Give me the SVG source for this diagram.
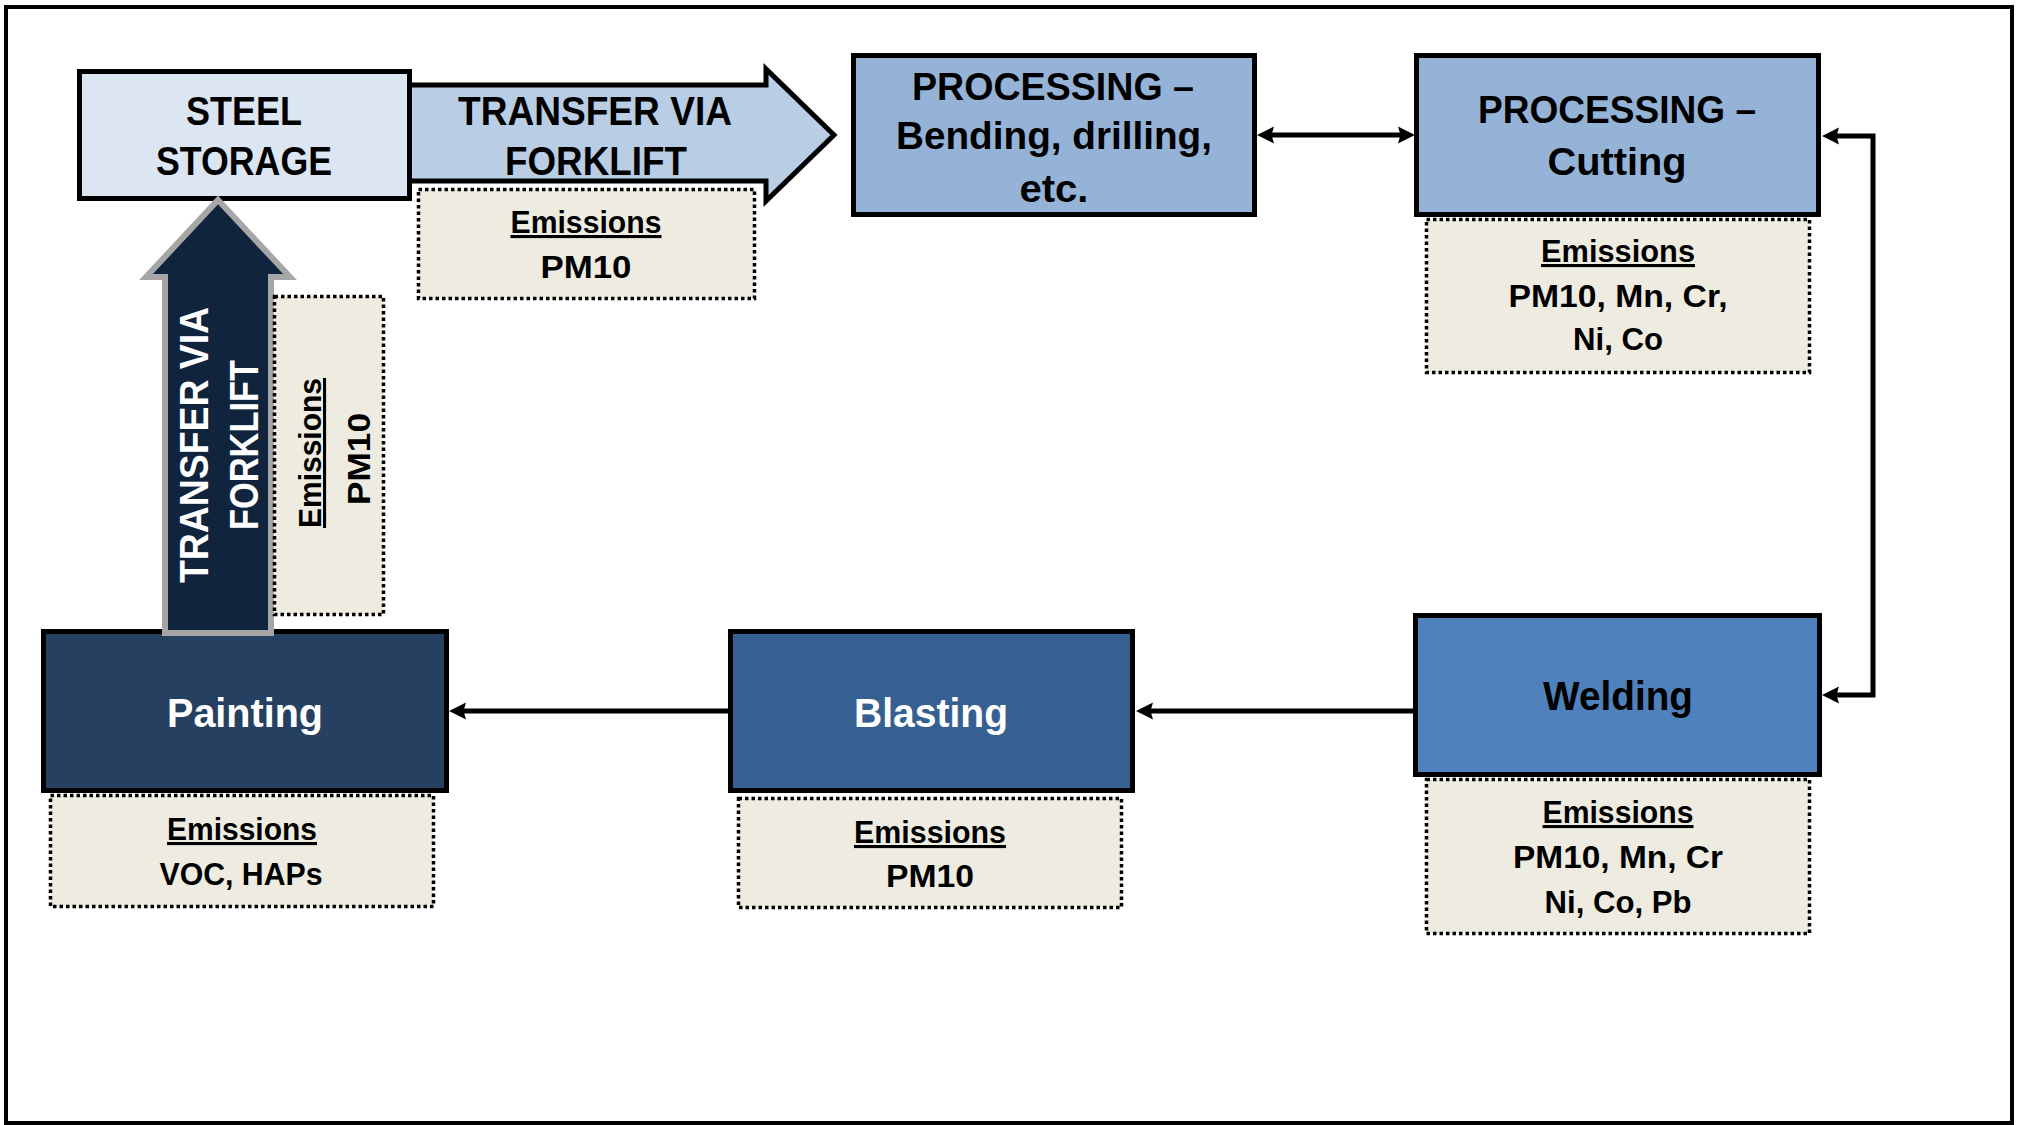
<svg xmlns="http://www.w3.org/2000/svg" width="2019" height="1125" viewBox="0 0 2019 1125">
<style>
.t{font-family:"Liberation Sans",Arial,sans-serif;font-weight:bold;text-anchor:middle}
.k{fill:#000}
.w{fill:#fff}
.n{font-size:40px}
.e{font-size:31px}
.u{text-decoration:underline}
.box{stroke:#000;stroke-width:5}
.em{fill:#eeece1;stroke:#000;stroke-width:3.5;stroke-dasharray:3.5 3}
.c{fill:none;stroke:#000;stroke-width:5}
</style>
<defs>
<marker id="ah" markerUnits="userSpaceOnUse" markerWidth="18" markerHeight="18" refX="8" refY="9" orient="auto-start-reverse" viewBox="0 0 18 18">
<path d="M0,0.5 L17,9 L0,17.5 L2.5,9 z" fill="#000"/>
</marker>
</defs>
<rect x="6" y="7" width="2006" height="1116" fill="#fff" stroke="#000" stroke-width="4"/>

<g id="connectors">
<line class="c" x1="1266" y1="135" x2="1406" y2="135" marker-start="url(#ah)" marker-end="url(#ah)"/>
<path class="c" d="M1831,136 H1873 V695 H1831" marker-start="url(#ah)" marker-end="url(#ah)"/>
<line class="c" x1="1413" y1="711" x2="1145" y2="711" marker-end="url(#ah)"/>
<line class="c" x1="728" y1="711" x2="458" y2="711" marker-end="url(#ah)"/>
</g>

<g id="transfer-forklift-1">
<polygon points="405,85 766,85 766,69 834,135 766,201 766,181 405,181" fill="#b9cde5" stroke="#000" stroke-width="5" stroke-linejoin="miter"/>
<text class="t k" x="595" y="125" font-size="41" textLength="274" lengthAdjust="spacingAndGlyphs">TRANSFER VIA</text>
<text class="t k" x="596" y="175" font-size="41" textLength="182" lengthAdjust="spacingAndGlyphs">FORKLIFT</text>
</g>

<g id="steel-storage">
<rect class="box" x="79.5" y="71.5" width="330" height="127" fill="#dce6f2"/>
<text class="t k" x="244" y="125" font-size="41" textLength="116" lengthAdjust="spacingAndGlyphs">STEEL</text>
<text class="t k" x="244" y="175" font-size="41" textLength="176" lengthAdjust="spacingAndGlyphs">STORAGE</text>
</g>

<g id="emissions-transfer-1">
<rect class="em" x="418.5" y="189.5" width="336" height="109"/>
<text class="t k e u" x="586" y="233" textLength="151" lengthAdjust="spacingAndGlyphs">Emissions</text>
<text class="t k e" x="586" y="278" textLength="91" lengthAdjust="spacingAndGlyphs">PM10</text>
</g>

<g id="processing-bending">
<rect class="box" x="853.5" y="55.5" width="401" height="159" fill="#95b3d7"/>
<text class="t k" x="1053" y="100" font-size="38" textLength="282" lengthAdjust="spacingAndGlyphs">PROCESSING –</text>
<text class="t k" x="1054" y="149" font-size="38" textLength="316" lengthAdjust="spacingAndGlyphs">Bending, drilling,</text>
<text class="t k" x="1054" y="202" font-size="38" textLength="69" lengthAdjust="spacingAndGlyphs">etc.</text>
</g>

<g id="processing-cutting">
<rect class="box" x="1416.5" y="55.5" width="402" height="159" fill="#95b3d7"/>
<text class="t k" x="1617" y="123" font-size="38" textLength="278" lengthAdjust="spacingAndGlyphs">PROCESSING –</text>
<text class="t k" x="1617" y="175" font-size="38" textLength="139" lengthAdjust="spacingAndGlyphs">Cutting</text>
</g>

<g id="emissions-cutting">
<rect class="em" x="1426.5" y="219.5" width="383" height="153"/>
<text class="t k e u" x="1618" y="262" textLength="154" lengthAdjust="spacingAndGlyphs">Emissions</text>
<text class="t k e" x="1618" y="307" textLength="219" lengthAdjust="spacingAndGlyphs">PM10, Mn, Cr,</text>
<text class="t k e" x="1618" y="350" textLength="90" lengthAdjust="spacingAndGlyphs">Ni, Co</text>
</g>

<g id="welding">
<rect class="box" x="1415.5" y="615.5" width="404" height="159" fill="#4f81bd"/>
<text class="t k n" x="1618" y="710" textLength="150" lengthAdjust="spacingAndGlyphs">Welding</text>
</g>

<g id="emissions-welding">
<rect class="em" x="1426.5" y="779.5" width="383" height="154"/>
<text class="t k e u" x="1618" y="823" textLength="151" lengthAdjust="spacingAndGlyphs">Emissions</text>
<text class="t k e" x="1618" y="868" textLength="210" lengthAdjust="spacingAndGlyphs">PM10, Mn, Cr</text>
<text class="t k e" x="1618" y="913" textLength="147" lengthAdjust="spacingAndGlyphs">Ni, Co, Pb</text>
</g>

<g id="blasting">
<rect class="box" x="730.5" y="631.5" width="402" height="159" fill="#376092"/>
<text class="t w n" x="931" y="727" textLength="154" lengthAdjust="spacingAndGlyphs">Blasting</text>
</g>

<g id="emissions-blasting">
<rect class="em" x="738.5" y="798.5" width="383" height="109"/>
<text class="t k e u" x="930" y="843" textLength="152" lengthAdjust="spacingAndGlyphs">Emissions</text>
<text class="t k e" x="930" y="887" textLength="88" lengthAdjust="spacingAndGlyphs">PM10</text>
</g>

<g id="painting">
<rect class="box" x="43.5" y="631.5" width="403" height="159" fill="#254061"/>
<text class="t w n" x="245" y="727" textLength="156" lengthAdjust="spacingAndGlyphs">Painting</text>
</g>

<g id="emissions-painting">
<rect class="em" x="50.5" y="795.5" width="383" height="111"/>
<text class="t k e u" x="242" y="840" textLength="150" lengthAdjust="spacingAndGlyphs">Emissions</text>
<text class="t k e" x="241" y="885" textLength="163" lengthAdjust="spacingAndGlyphs">VOC, HAPs</text>
</g>

<g id="transfer-forklift-2">
<polygon points="218,200 290,277 271,277 271,633 165,633 165,277 146,277" fill="#10243e" stroke="#a6a6a6" stroke-width="6" stroke-linejoin="miter"/>
<text class="t w" transform="translate(208,445) rotate(-90)" font-size="40" textLength="276" lengthAdjust="spacingAndGlyphs">TRANSFER VIA</text>
<text class="t w" transform="translate(258,445) rotate(-90)" font-size="40" textLength="170" lengthAdjust="spacingAndGlyphs">FORKLIFT</text>
</g>

<g id="emissions-transfer-2">
<rect class="em" x="274.5" y="296.5" width="109" height="318"/>
<text class="t k e u" transform="translate(321,453) rotate(-90)" textLength="150" lengthAdjust="spacingAndGlyphs">Emissions</text>
<text class="t k e" transform="translate(370,459) rotate(-90)" textLength="92" lengthAdjust="spacingAndGlyphs">PM10</text>
</g>
</svg>
